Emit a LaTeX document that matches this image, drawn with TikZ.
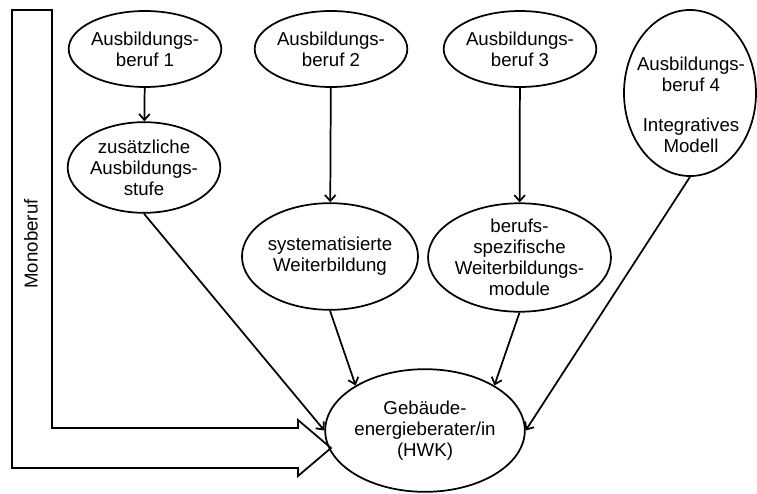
\documentclass[tikz,border=0pt]{standalone}
\usepackage{fontspec}
\setmainfont{Liberation Sans}
\usetikzlibrary{shapes.geometric,arrows.meta}

\begin{document}
\begin{tikzpicture}[x=0.75pt, y=-0.75pt, line width=1.3pt,
	bub/.style={ellipse, draw, align=center, inner sep=0pt,
		font=\fontsize{14}{15.75}\selectfont},
	>={Straight Barb[length=4.5pt,width=8pt]}]
	\useasboundingbox (0,0) rectangle (757,493);
	% top row
	\foreach \n/\x in {1/145,2/331,3/520}
	{
		\node[bub, minimum width=102pt, minimum height=57pt] (a\n) at (\x,49) {Ausbildungs-\\beruf \n};
	}
	\node[bub, minimum width=99pt, minimum height=124.5pt] (a4) at (690,93) {};
	\node[align=center, font=\fontsize{14}{15.75}\selectfont] (a4t) at (691,105)
		{Ausbildungs-\\beruf 4\\[14pt]Integratives\\Modell};
	% middle row
	\node[bub, minimum width=112pt, minimum height=68pt] (z1) at (144,167.5)
		{zusätzliche\\Ausbildungs-\\stufe};
	\node[bub, minimum width=124.5pt, minimum height=80pt] (s2) at (330,256.5)
		{systematisierte\\Weiterbildung};
	\node[bub, minimum width=124.5pt, minimum height=80pt] (b3) at (519.5,257.5)
		{berufs-\\spezifische\\Weiterbildungs-\\module};
	% goal
	\node[bub, minimum width=142.5pt, minimum height=92pt] (g) at (425,430.5)
		{Gebäude-\\energieberater/in\\(HWK)};
	% Monoberuf block arrow
	\draw (52,10) -- (52,428) -- (298,428) -- (298,420) -- (331,448)
		-- (298,476) -- (298,468) -- (12,468) -- (12,10) -- cycle;
	\node[rotate=90, font=\fontsize{14}{15.75}\selectfont] (mono) at (31,244) {Monoberuf};
	\draw[->] (a1) -- (z1);
	\draw[->] (a2) -- (s2);
	\draw[->] (a3) -- (b3);
	\draw[->] (z1.south) -- (g.west);
	\draw[->] (s2.south) -- (g.147);
	\draw[->] (b3.south) -- (g.33);
	\draw[->] (a4.south) -- (g.east);
\end{tikzpicture}
\end{document}
